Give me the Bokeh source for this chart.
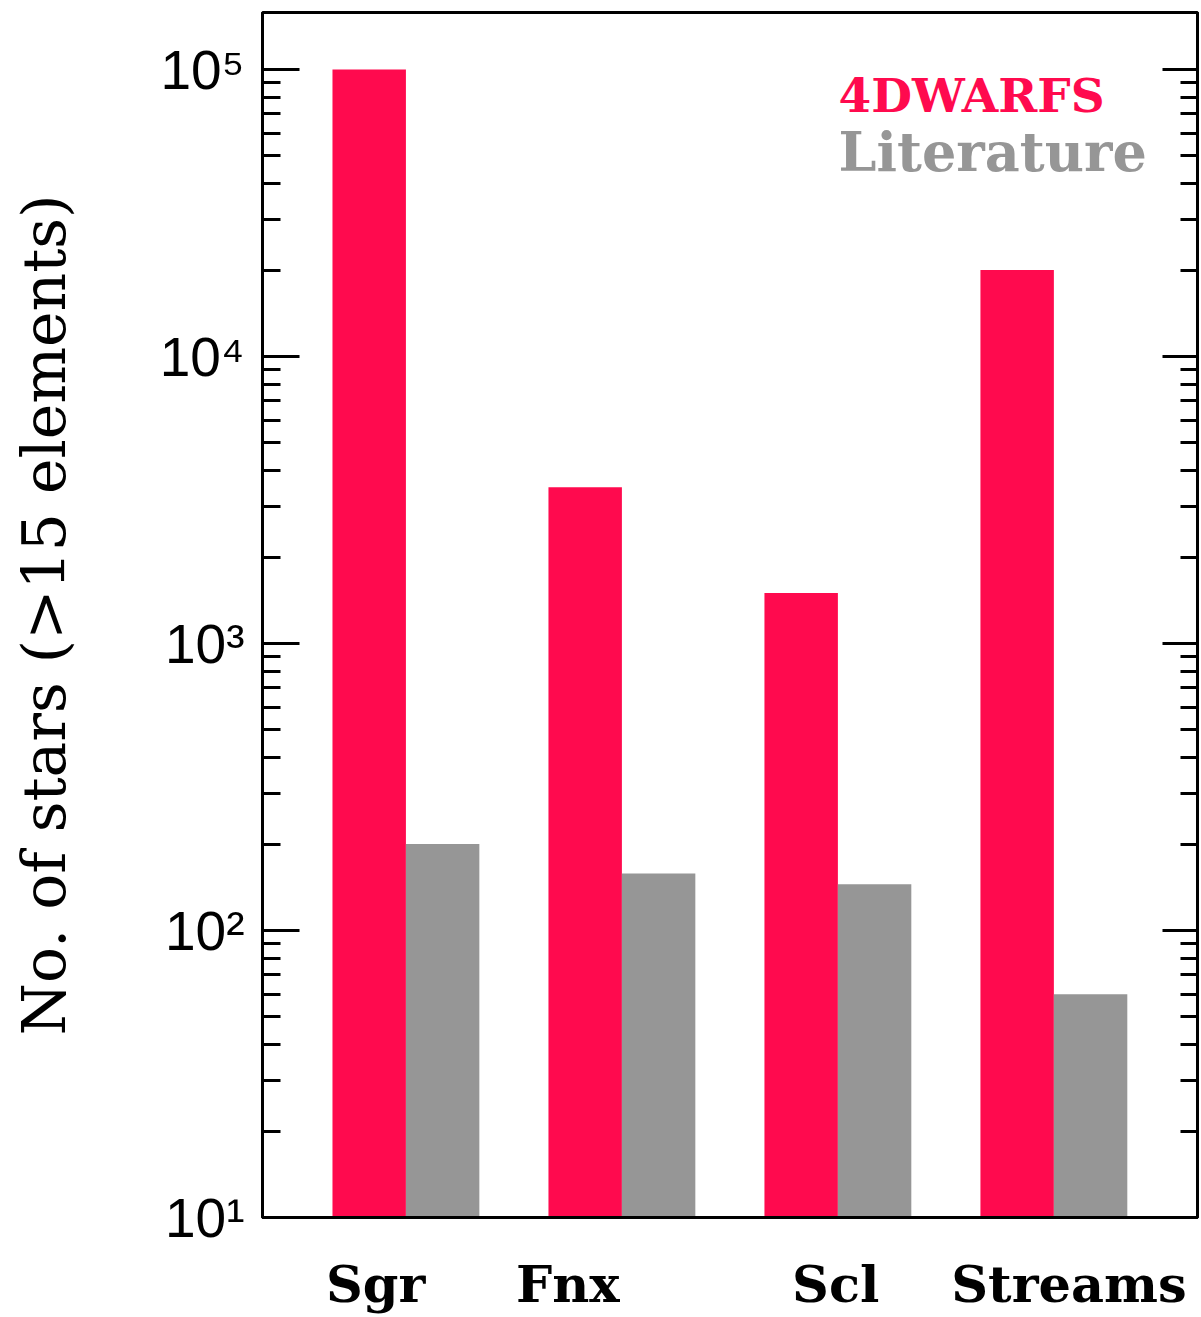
import numpy as np
from bokeh.plotting import figure
from bokeh.models import (FixedTicker, CustomJSTickFormatter, LogAxis, Range1d, CustomLabelingPolicy)
from bokeh.core.properties import value
from bokeh.embed import file_html
from bokeh.resources import INLINE

# ---- data ----
groups = ["Sgr", "Fnx", "Scl", "Streams"]
dwarfs4 = [100000, 3500, 1500, 20000]      # 4DWARFS
literature = [200, 158, 145, 60]            # Literature
series_names = ["4DWARFS", "Literature"]
y_ticks = [10, 100, 1000, 10000, 100000]
y_tick_labels = ["10\u00b9", "10\u00b2", "10\u00b3", "10\u2074", "10\u2075"]
y_minor = [m * 10 ** d for d in range(1, 5) for m in range(2, 10)]

# ---- layout constants ----
label_offsets = [-0.14, -0.25, -0.01, 0.07]
bar_w = 0.34
RED = "#FF0A4E"
GRAY = "#969696"

x = np.arange(len(groups))

p = figure(width=1201, height=1317, output_backend="svg", toolbar_location=None,
           y_axis_type="log",
           x_range=Range1d(-0.664, 3.665), y_range=Range1d(10, 158000),
           min_border_left=262, min_border_right=1, min_border_top=12, min_border_bottom=100)

p.vbar(x=x - bar_w / 2, top=dwarfs4, bottom=10, width=bar_w, fill_color=RED, line_color=None)
p.vbar(x=x + bar_w / 2, top=literature, bottom=10, width=bar_w, fill_color=GRAY, line_color=None)

p.grid.visible = False
p.outline_line_color = "black"
p.outline_line_width = 3
p.background_fill_color = "white"
p.border_fill_color = "white"

# x axis
xa = p.xaxis[0]
xa.ticker = FixedTicker(ticks=[i + o for i, o in enumerate(label_offsets)])
xa.formatter = CustomJSTickFormatter(args=dict(names=groups), code="return names[Math.round(tick)];")
xa.major_tick_in = 0
xa.major_tick_out = 0
xa.minor_tick_in = 0
xa.minor_tick_out = 0
xa.axis_line_width = 3
xa.axis_line_color = "black"
xa.major_label_text_font = "DejaVu Serif"
xa.major_label_text_font_size = "51px"
xa.major_label_text_font_style = "bold"
xa.major_label_text_color = "black"
xa.major_label_standoff = 36

# y axis (left)
ya = p.yaxis[0]
ya.ticker = FixedTicker(ticks=y_ticks, minor_ticks=y_minor)
ya.formatter = CustomJSTickFormatter(args=dict(t=y_ticks, l=y_tick_labels), code="""
let best = 0;
for (let i = 0; i < t.length; i++) {
  if (Math.abs(Math.log10(t[i]) - Math.log10(tick)) < Math.abs(Math.log10(t[best]) - Math.log10(tick))) best = i;
}
return l[best];
""")
ya.major_tick_in = 37
ya.major_tick_out = 0
ya.minor_tick_in = 18
ya.minor_tick_out = 0
ya.major_tick_line_width = 3
ya.minor_tick_line_width = 3
ya.axis_line_width = 3
ya.axis_line_color = "black"
ya.major_label_text_font = "Liberation Sans"
ya.major_label_text_font_size = "55px"
ya.major_label_text_color = "black"
ya.major_label_standoff = 18
ya.axis_label = "No. of stars (>15 elements)"
ya.axis_label_text_font = "DejaVu Serif"
ya.axis_label_text_font_size = "60px"
ya.axis_label_text_font_style = "normal"
ya.axis_label_text_color = "black"
ya.axis_label_standoff = 78

# right axis: ticks only, no labels
ra = LogAxis(ticker=FixedTicker(ticks=y_ticks, minor_ticks=y_minor))
ra.major_label_policy = CustomLabelingPolicy(code="""
const all = [...indices];
for (const i of all) indices.unset(i);
return indices;
""")
ra.major_label_text_font_size = "1px"
ra.major_label_standoff = 0
ra.major_tick_in = 35
ra.major_tick_out = 0
ra.minor_tick_in = 17
ra.minor_tick_out = 0
ra.major_tick_line_width = 3
ra.minor_tick_line_width = 3
ra.axis_line_width = 3
ra.axis_line_color = "black"
p.add_layout(ra, "right")

# legend texts (as text glyphs)
leg_x = 2.003
p.text(x=[leg_x], y=[81100], text=[series_names[0]], text_color=RED,
       text_font=value("DejaVu Serif"), text_font_size="47px", text_font_style="bold",
       text_baseline="middle", text_align="left")
p.text(x=[leg_x], y=[51400], text=[series_names[1]], text_color=GRAY,
       text_font=value("DejaVu Serif"), text_font_size="54px", text_font_style="bold",
       text_baseline="middle", text_align="left")

open("out.html", "w").write(file_html(p, INLINE))
